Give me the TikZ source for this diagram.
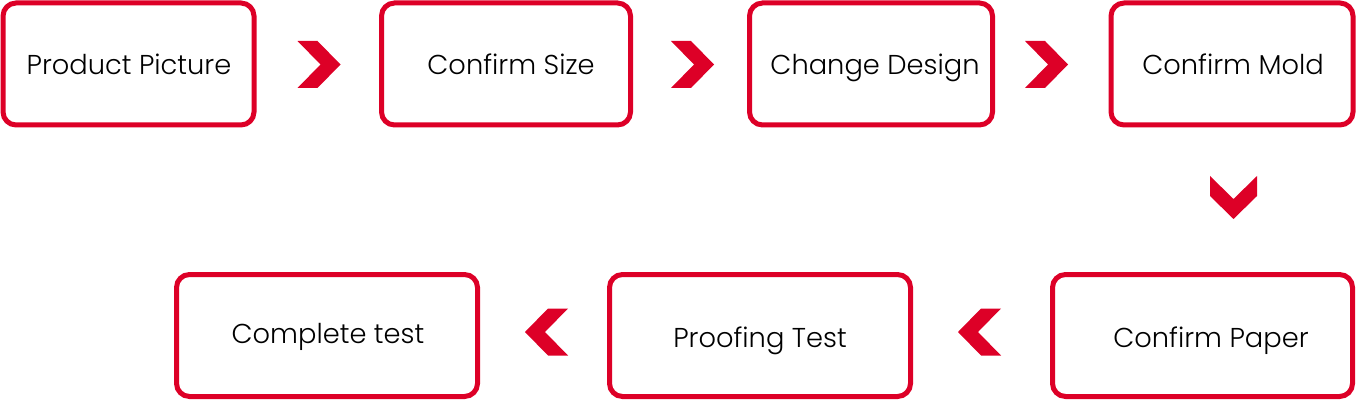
\documentclass[tikz,border=0pt]{standalone}
\usepackage{fontspec}
\setmainfont{Poppins Light}
\definecolor{brand}{RGB}{221,0,39}
\tikzset{
  box/.style={draw=brand, line width=5pt, rounded corners=13pt, fill=white,
    minimum height=122pt, inner sep=0pt},
  lbl/.style={font=\fontsize{27.3}{32}\selectfont, text=black, anchor=base, inner sep=0pt},
  pics/chev/.style={code={
    \fill[brand] (-21.5,-23.5) -- (-1.5,-23.5) -- (21.5,0) -- (-1.5,23.5)
      -- (-21.5,23.5) -- (1.5,0) -- cycle;}}
}
\begin{document}
\begin{tikzpicture}[x=1pt,y=-1pt]
\useasboundingbox (0,0) rectangle (1358,401);
% row 1
\node[box, minimum width=251pt] (b1) at (128.5,64) {};
\node[box, minimum width=249pt] (b2) at (506,64) {};
\node[box, minimum width=243pt] (b3) at (871,64) {};
\node[box, minimum width=242pt] (b4) at (1232,64) {};
% row 2
\node[box, minimum width=301pt] (b5) at (327,335.5) {};
\node[box, minimum width=301pt] (b6) at (760,335.5) {};
\node[box, minimum width=300pt] (b7) at (1202.5,335.5) {};
% labels
\node[lbl] (t1) at (129,75) {Product Picture};
\node[lbl] (t2) at (511,75) {Confirm Size};
\node[lbl] (t3) at (875,75) {Change Design};
\node[lbl] (t4) at (1233,75) {Confirm Mold};
\node[lbl] (t5) at (328,343) {Complete test};
\node[lbl] (t6) at (760,347) {Proofing Test};
\node[lbl] (t7) at (1211,347) {Confirm Paper};
% chevrons
\pic at (319,64.5) {chev};
\pic at (692.5,64.5) {chev};
\pic at (1046.5,64.5) {chev};
\pic[rotate=-90] at (1233.5,197.5) {chev};
\pic[rotate=180] at (979.5,332) {chev};
\pic[rotate=180] at (546.5,332) {chev};
\end{tikzpicture}
\end{document}
